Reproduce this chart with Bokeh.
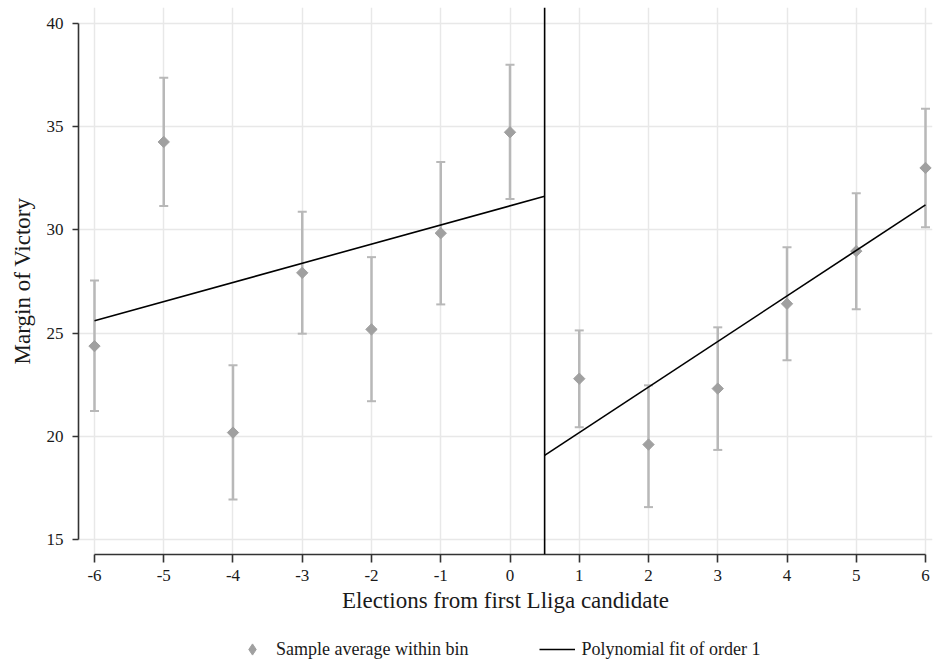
from bokeh.plotting import figure
from bokeh.layouts import column
from bokeh.models import Range1d, FixedTicker, Span, ColumnDataSource, Legend, LegendItem
from bokeh.embed import file_html
from bokeh.resources import INLINE
import numpy as np

# Bins: elections relative to the first Lliga candidate
elections = [-6, -5, -4, -3, -2, -1, 0, 1, 2, 3, 4, 5, 6]
bin_mean = [24.37, 34.26, 20.18, 27.92, 25.18, 29.84, 34.73, 22.79, 19.60, 22.31, 26.42, 28.97, 33.00]
ci_low = [21.23, 31.16, 16.94, 24.97, 21.70, 26.39, 31.50, 20.44, 16.57, 19.34, 23.68, 26.15, 30.13]
ci_high = [27.55, 37.37, 23.44, 30.88, 28.68, 33.29, 38.00, 25.13, 22.47, 25.28, 29.16, 31.78, 35.87]

# Linear fits on each side of the cutoff
cutoff = 0.5
fit_pre_x = [-6, 0.5]
fit_pre_y = [25.60, 31.63]
fit_post_x = [0.5, 6]
fit_post_y = [19.08, 31.21]

x_ticks = list(range(-6, 7))
y_ticks = [15, 20, 25, 30, 35, 40]

FONT = "Liberation Serif"
TEXT = "#1a1a1a"
BAR = "#b8b8b8"
DOT = "#a0a0a0"
GRID = "#e8e8e8"

src = ColumnDataSource(dict(x=elections, y=bin_mean, lo=ci_low, hi=ci_high))

p = figure(width=934, height=620, frame_width=854, frame_height=547,
           output_backend="svg", toolbar_location=None,
           x_range=Range1d(-6.231, 6.101), y_range=Range1d(14.274, 40.774),
           min_border_left=78, min_border_right=2, min_border_top=7, min_border_bottom=66)
p.outline_line_color = None
p.background_fill_color = "white"
p.border_fill_color = "white"

# grid
p.xgrid.ticker = FixedTicker(ticks=x_ticks)
p.ygrid.ticker = FixedTicker(ticks=y_ticks)
for g in (p.xgrid, p.ygrid):
    g.grid_line_color = GRID
    g.grid_line_width = 1.5

# axes
p.xaxis.ticker = FixedTicker(ticks=x_ticks)
p.yaxis.ticker = FixedTicker(ticks=y_ticks)
p.xaxis.major_label_overrides = {t: str(t) for t in x_ticks}
p.xaxis.bounds = (-6, 6)
p.yaxis.bounds = (15, 40)
p.xaxis.axis_label = "Elections from first Lliga candidate"
p.yaxis.axis_label = "Margin of Victory"
for ax in (p.xaxis, p.yaxis):
    ax.axis_line_color = "#333333"
    ax.axis_line_width = 1.6
    ax.major_tick_line_color = "#333333"
    ax.major_tick_line_width = 1.6
    ax.minor_tick_line_color = None
    ax.major_tick_in = 0
    ax.major_label_text_font = FONT
    ax.major_label_text_font_size = "17px"
    ax.major_label_text_color = TEXT
    ax.axis_label_text_font = FONT
    ax.axis_label_text_font_size = "23px"
    ax.axis_label_text_font_style = "normal"
    ax.axis_label_text_color = TEXT
p.xaxis.major_tick_out = 8
p.yaxis.major_tick_out = 6
p.xaxis.major_label_standoff = 7
p.yaxis.major_label_standoff = 9
p.xaxis.axis_label_standoff = 4
p.yaxis.axis_label_standoff = 9

# confidence intervals
p.segment(x0="x", y0="lo", x1="x", y1="hi", source=src, line_color=BAR, line_width=2.5)
p.scatter(x="x", y="lo", source=src, marker="dash", size=9, line_color=BAR, line_width=2)
p.scatter(x="x", y="hi", source=src, marker="dash", size=9, line_color=BAR, line_width=2)

# bin averages
p.scatter(x="x", y="y", source=src, marker="square", size=8, angle=np.pi / 4,
          fill_color=DOT, line_color=DOT)

# fitted lines
p.line(fit_pre_x, fit_pre_y, line_color="black", line_width=1.6)
p.line(fit_post_x, fit_post_y, line_color="black", line_width=1.6)

# cutoff
p.add_layout(Span(location=cutoff, dimension="height", line_color="black", line_width=1.6))

# key strip under the chart; its renderers hold a single NaN so only the key glyphs show
nan = float("nan")
key = figure(width=934, height=46, output_backend="svg", toolbar_location=None,
             x_range=Range1d(0, 1), y_range=Range1d(0, 1),
             min_border=0, x_axis_type=None, y_axis_type=None)
key.outline_line_color = None
key.grid.visible = False
key_dots = key.scatter(x=[nan], y=[nan], marker="diamond",
                       fill_color=DOT, line_color=DOT)
key_fit = key.line(x=[nan], y=[nan], line_color="black", line_width=1.6)
legend = Legend(items=[LegendItem(label="Sample average within bin", renderers=[key_dots]),
                       LegendItem(label="Polynomial fit of order 1", renderers=[key_fit])],
                orientation="horizontal", location=(156, 3),
                border_line_color=None, background_fill_alpha=0, padding=0, margin=0,
                label_text_font=FONT, label_text_font_size="18px", label_text_color=TEXT,
                glyph_width=36, glyph_height=28, label_standoff=6, spacing=71)
key.add_layout(legend)

open("out.html", "w").write(file_html(column(p, key), INLINE))
